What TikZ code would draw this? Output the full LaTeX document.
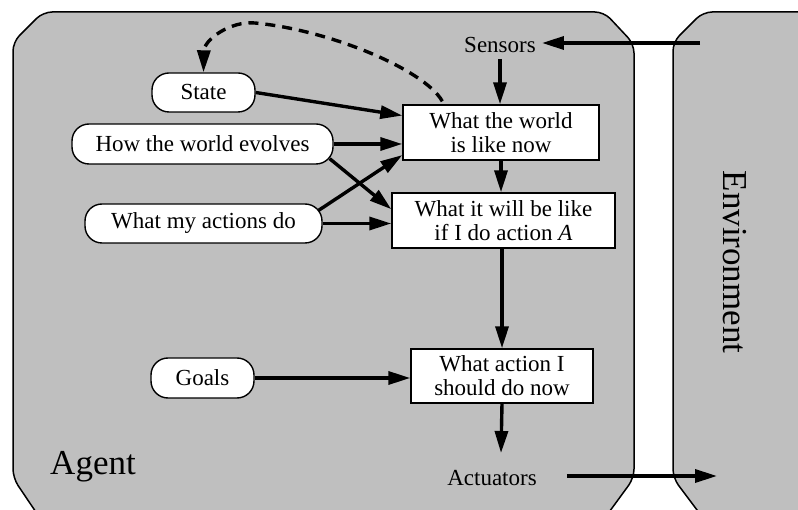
\documentclass[tikz,border=0pt]{standalone}
\usepackage{fontspec}
\setmainfont{Liberation Serif}
\usetikzlibrary{arrows.meta,calc}
\definecolor{agentgray}{RGB}{191,191,191}
\begin{document}
\begin{tikzpicture}[x=1pt,y=-1pt,
  arr/.style={line width=3.4pt,-{Triangle[length=22pt,width=13pt]}},
  memo/.style={draw,fill=white,line width=1.4pt,rounded corners=17pt,minimum height=39pt,inner sep=0pt,font=\fontsize{23}{24}\selectfont},
  proc/.style={draw,fill=white,line width=1.4pt,minimum height=55pt,inner sep=0pt,align=center,font=\fontsize{23}{24}\selectfont},
  lbl/.style={inner ysep=6pt,inner xsep=6pt,font=\fontsize{23}{24}\selectfont},
  big/.style={inner sep=0pt,font=\fontsize{35}{36}\selectfont},
  frame/.style={fill=agentgray,line width=1.5pt,rounded corners=9pt}]
\useasboundingbox (0,0) rectangle (798,510);
\begin{scope}
\clip (0,0) rectangle (798,510);
\draw[frame] (48,530) -- (13,478) -- (13,42) -- (43,12) -- (604,12) -- (634,44) -- (634,478) -- (596,530) -- cycle;
\draw[frame] (712,530) -- (673,478) -- (673,42) -- (703,12) -- (830,12) -- (830,530) -- cycle;
\end{scope}

\node[memo,minimum width=103pt] (state) at (203.5,92.5) {State};
\node[memo,minimum width=261pt,minimum height=40pt] (evolves) at (202.5,144) {How the world evolves};
\node[memo,minimum width=237pt] (actions) at (203.5,223.5) {What my actions do};
\node[memo,minimum width=103pt,minimum height=40pt] (goals) at (202.5,378) {Goals};
\node[proc,minimum width=196pt] (world) at (501,132.5) {What the world\\is like now};
\node[proc,minimum width=223pt] (predict) at (503.5,220.5) {What it will be like\\if I do action \textit{A}};
\node[proc,minimum width=182pt,minimum height=54pt] (decide) at (502,376) {What action I\\should do now};
\node[lbl] (sensors) at (500,45) {Sensors};
\node[lbl] (actuators) at (492,478) {Actuators};
\node[big] (agent) at (93,467) {Agent};
\node[big,rotate=-90] (env) at (735,262) {Environment};

\coordinate (envS) at (700,43);
\coordinate (actOut) at (501,453);
\coordinate (envA) at (717,476);

\draw[arr] (envS) -- (envS -| sensors.east);
\draw[arr] (sensors.south) -- (sensors.south |- world.north);
\draw[arr] (world.south) -- (world.south |- predict.north);
\draw[arr] (predict.south -| decide.north) -- (decide.north);
\draw[arr] (decide.south) -- (actOut);
\draw[arr,shorten <=24pt] (actuators.east |- envA) -- (envA);

\draw[arr] (state.east) -- ($(world.north west)!0.2!(world.south west)$);
\draw[arr] (evolves.east) -- (evolves.east -| world.west);
\draw[arr] ($(evolves.south east)+(-4,-6)$) -- ($(predict.north west)!0.3!(predict.south west)$);
\draw[arr] ($(actions.north east)+(-4,7)$) -- ($(world.north west)!0.9!(world.south west)$);
\draw[arr] (actions.east) -- (actions.east -| predict.west);
\draw[arr] (goals.east) -- (goals.east -| decide.west);

\draw[arr,dash pattern=on 10pt off 7pt] ($(world.north west)+(40,-3)$) .. controls (425,70) and (330,30) .. (255,23) .. controls (230,20.7) and (204,40) .. (state.north);
\end{tikzpicture}
\end{document}
